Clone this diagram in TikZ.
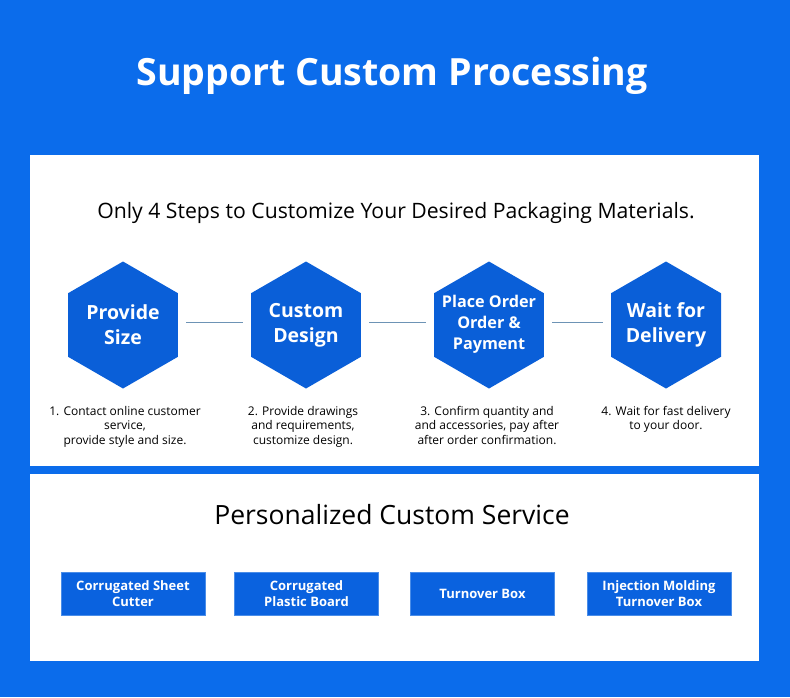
\documentclass[tikz,border=0pt]{standalone}
\usepackage{fontspec}
\setmainfont{Open Sans}
\usetikzlibrary{shapes.geometric}
\definecolor{bgblue}{HTML}{0B6CEB}
\definecolor{hexblue}{HTML}{0A5FD8}
\definecolor{boxblue}{HTML}{0A62DF}
\definecolor{boxedge}{HTML}{4A8DE8}
\definecolor{linkcol}{HTML}{6D93B5}
\begin{document}
\begin{tikzpicture}[x=1pt,y=-1pt,
  panel/.style={fill=white,draw=none},
  hexshape/.style={regular polygon,regular polygon sides=6,shape border rotate=30,minimum size=127pt,inner sep=0pt,fill=hexblue,draw=none},
  hextext/.style={text=white,font=\fontsize{19.5}{25}\selectfont\bfseries,align=center,inner sep=0pt},
  desc/.style={text=black,font=\fontsize{12}{14.5}\selectfont,align=center,inner sep=0pt},
  link/.style={draw=linkcol,line width=1pt,shorten <=8pt,shorten >=8pt},
  svcbox/.style={fill=boxblue,draw=boxedge,line width=0.6pt,minimum width=144pt,minimum height=43pt,inner sep=0pt,text=white,align=center,font=\fontsize{13}{15.5}\selectfont\bfseries}]
\fill[bgblue] (0,0) rectangle (790,697);
\useasboundingbox (0,0) rectangle (790,697);
\node[text=white,font=\fontsize{37.5}{42}\selectfont\bfseries] (title) at (392,76) {Support Custom Processing};
\node[panel,minimum width=729pt,minimum height=311pt,inner sep=0pt] (p1) at (394.5,310.5) {};
\node[panel,minimum width=729pt,minimum height=187pt,inner sep=0pt] (p2) at (394.5,567.5) {};
\node[font=\fontsize{21.2}{24}\selectfont] (sub) at (396,213) {Only 4 Steps to Customize Your Desired Packaging Materials.};
\node[hexshape] (h1) at (123,325) {};
\node[hexshape] (h2) at (306,325) {};
\node[hexshape] (h3) at (489,325) {};
\node[hexshape] (h4) at (666,325) {};
\node[hextext] (t1) at (h1) {Provide\\Size};
\node[hextext] (t2) at (h2) {Custom\\Design};
\node[hextext,font=\fontsize{16.2}{21}\selectfont\bfseries] (t3) at ([yshift=1pt]h3) {Place Order\\Order \&\\Payment};
\node[hextext] (t4) at (h4) {Wait for\\Delivery};
\draw[link] ([yshift=3pt]h1.east) -- ([yshift=3pt]h2.west);
\draw[link] ([yshift=3pt]h2.east) -- ([yshift=3pt]h3.west);
\draw[link] ([yshift=3pt]h3.east) -- ([yshift=3pt]h4.west);
\node[desc,anchor=north] (d1) at (125,406) {1. Contact online customer\\service,\\provide style and size.};
\node[desc,anchor=north] (d2) at (303,406) {2. Provide drawings\\and requirements,\\customize design.};
\node[desc,anchor=north] (d3) at (487,406) {3. Confirm quantity and\\and accessories, pay after\\after order confirmation.};
\node[desc,anchor=north] (d4) at (666,406) {4. Wait for fast delivery\\to your door.};
\node[font=\fontsize{26.5}{30}\selectfont] (sub2) at (392,515) {Personalized Custom Service};
\node[svcbox] (b1) at (133,593.5) {Corrugated Sheet\\Cutter};
\node[svcbox] (b2) at (306.5,593.5) {Corrugated\\Plastic Board};
\node[svcbox] (b3) at (482.5,593.5) {Turnover Box};
\node[svcbox] (b4) at (659,593.5) {Injection Molding\\Turnover Box};
\end{tikzpicture}
\end{document}
